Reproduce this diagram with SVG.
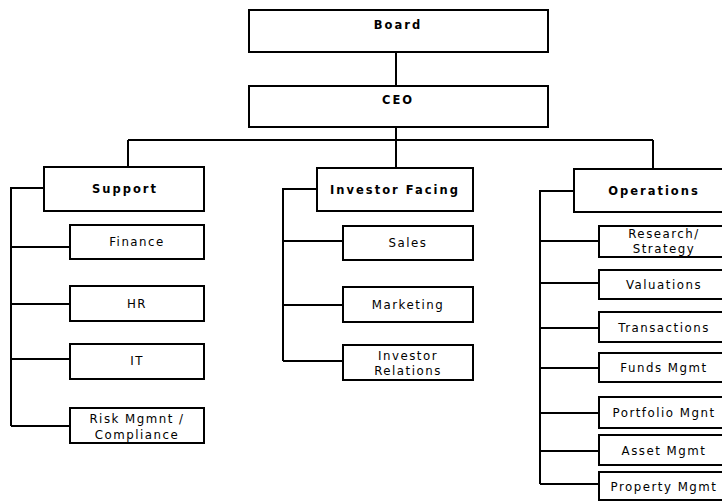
<svg xmlns="http://www.w3.org/2000/svg" width="722" height="502" viewBox="0 0 722 502">
<style>
.b{fill:#fff;stroke:#000;stroke-width:2}
.t{font-family:"DejaVu Sans",Verdana,sans-serif;font-size:11.8px;letter-spacing:1.5px;text-anchor:middle;fill:#000}
.h{font-weight:bold;font-size:11.5px;letter-spacing:2px}
.c{fill:none;stroke:#000;stroke-width:2}
</style>
<rect width="722" height="502" fill="#fff"/>
<g id="connectors" class="c">
<path d="M396 52V86M396 127V140M128 140H653M128 140V167M396 140V168M653 140V169"/>
<path d="M44 188H11V426M11 247H70M11 304H70M11 359H70M11 426H70"/>
<path d="M317 189H283V361M283 241H343M283 305H343M283 361H343"/>
<path d="M574 191H540V484M540 241H599M540 283H599M540 328H599M540 368H599M540 413H599M540 451H599M540 484H599"/>
</g>
<g id="board"><rect class="b" x="249" y="10" width="299" height="42"/><text class="t h" x="398" y="29">Board</text></g>
<g id="ceo"><rect class="b" x="249" y="86" width="299" height="41"/><text class="t h" x="398" y="104">CEO</text></g>
<g id="support"><rect class="b" x="44" y="167" width="160" height="44"/><text class="t h" x="125" y="193">Support</text></g>
<g id="finance"><rect class="b" x="70" y="225" width="134" height="34"/><text class="t" x="137" y="246">Finance</text></g>
<g id="hr"><rect class="b" x="70" y="286" width="134" height="35"/><text class="t" x="137" y="308">HR</text></g>
<g id="it"><rect class="b" x="70" y="344" width="134" height="35"/><text class="t" x="137" y="365">IT</text></g>
<g id="risk"><rect class="b" x="70" y="408" width="134" height="35"/><text class="t" x="137" y="423">Risk Mgmnt /</text><text class="t" x="137" y="439">Compliance</text></g>
<g id="investor-facing"><rect class="b" x="317" y="168" width="156" height="43"/><text class="t h" x="395" y="194">Investor Facing</text></g>
<g id="sales"><rect class="b" x="343" y="226" width="130" height="34"/><text class="t" x="408" y="247">Sales</text></g>
<g id="marketing"><rect class="b" x="343" y="287" width="130" height="35"/><text class="t" x="408" y="309">Marketing</text></g>
<g id="investor-relations"><rect class="b" x="343" y="345" width="130" height="35"/><text class="t" x="408" y="360">Investor</text><text class="t" x="408" y="375">Relations</text></g>
<g id="operations"><rect class="b" x="574" y="169" width="160" height="43"/><text class="t h" x="654" y="195">Operations</text></g>
<g id="research"><rect class="b" x="599" y="226" width="130" height="31"/><text class="t" x="664" y="238">Research/</text><text class="t" x="664" y="253">Strategy</text></g>
<g id="valuations"><rect class="b" x="599" y="270" width="130" height="29"/><text class="t" x="664" y="289">Valuations</text></g>
<g id="transactions"><rect class="b" x="599" y="312" width="130" height="30"/><text class="t" x="664" y="332">Transactions</text></g>
<g id="funds"><rect class="b" x="599" y="353" width="130" height="29"/><text class="t" x="664" y="372">Funds Mgmt</text></g>
<g id="portfolio"><rect class="b" x="599" y="397" width="130" height="31"/><text class="t" x="664" y="417">Portfolio Mgnt</text></g>
<g id="asset"><rect class="b" x="599" y="435" width="130" height="30"/><text class="t" x="664" y="455">Asset Mgmt</text></g>
<g id="property"><rect class="b" x="599" y="472" width="130" height="28"/><text class="t" x="664" y="491">Property Mgmt</text></g>
</svg>
